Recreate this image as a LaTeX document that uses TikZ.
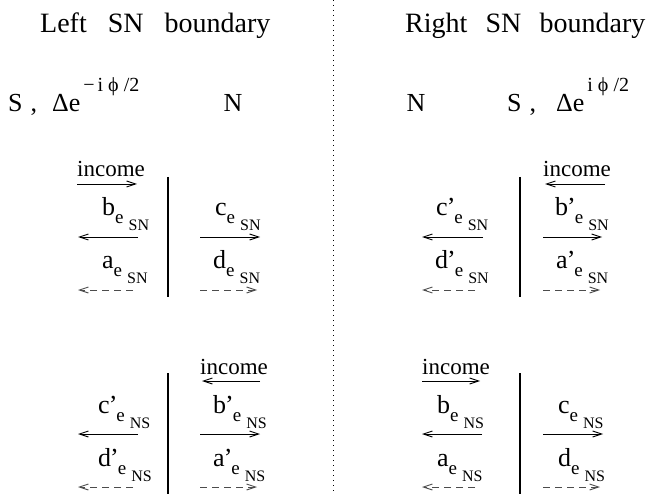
\documentclass[tikz,border=0pt]{standalone}
\usepackage{fontspec}
\setmainfont{Liberation Serif}
\usetikzlibrary{arrows.meta}

% amplitude label: letter, prime, boundary
\newcommand{\coef}[3]{{\fontsize{26pt}{26pt}\selectfont #1#2}\raisebox{-8pt}{\fontsize{19pt}{19pt}\selectfont e}\hspace{5pt}\raisebox{-15pt}{\fontsize{16pt}{16pt}\selectfont #3}}
\newcommand{\prm}{\hspace{-1pt}’\hspace{-1pt}}
\newcommand{\phase}[1]{\hspace{3pt}\raisebox{20pt}{\fontsize{20pt}{20pt}\selectfont #1}}

\tikzset{
  txt/.style={inner sep=0pt, anchor=base west},
  big/.style={inner sep=0pt, font=\fontsize{26pt}{26pt}\selectfont},
  inc/.style={txt, font=\fontsize{23pt}{23pt}\selectfont},
  flow/.style={-{Straight Barb[length=9pt,width=6pt]}, line width=0.9pt},
  back/.style={flow, black!70, dash pattern=on 7pt off 5pt},
  wall/.style={line width=1.2pt},
}

\begin{document}
\begin{tikzpicture}[x=1pt,y=-1pt]
    \useasboundingbox (0,0) rectangle (658,494);
    % middle line
    \coordinate (mtop) at (333,0);
    \coordinate (mbot) at (333,494);
    \draw[line width=0.8pt, dash pattern=on 0.8pt off 4.2pt] (mtop) -- (mbot);

    % headings
    \node[txt, font=\fontsize{28pt}{28pt}\selectfont] (ltitle) at (40,33) {Left\hspace{0.75em}SN\hspace{0.75em}boundary};
    \node[txt, font=\fontsize{28pt}{28pt}\selectfont] (rtitle) at (405,33) {Right\hspace{0.65em}SN\hspace{0.65em}boundary};
    \node[big, anchor=base west] (lS) at (8,112) {S\hspace{8pt},\hspace{15pt}Δe\phase{−\hspace{3pt}i\hspace{5pt}ϕ\hspace{5pt}/2}};
    \node[big, anchor=base] (lN) at (233,112) {N};
    \node[big, anchor=base] (rN) at (416,112) {N};
    \node[big, anchor=base west] (rS) at (507,112) {S\hspace{8pt},\hspace{20pt}Δe\phase{i\hspace{5pt}ϕ\hspace{5pt}/2}};

    % top left block
    \node[inc] (tlinc) at (77,177) {income};
    \node[txt] (tlb) at (102,216) {\coef{b}{}{SN}};
    \node[txt] (tla) at (102,269) {\coef{a}{}{SN}};
    \node[txt] (tlc) at (215,216) {\coef{c}{}{SN}};
    \node[txt] (tld) at (213,269) {\coef{d}{}{SN}};
    \coordinate (tl0) at (77,184);  \coordinate (tl1) at (137,184);
    \coordinate (tl2) at (138,237); \coordinate (tl3) at (78,237);
    \coordinate (tl4) at (133,290); \coordinate (tl5) at (78,290);
    \coordinate (tl6) at (200,237); \coordinate (tl7) at (260,237);
    \coordinate (tl8) at (200,290); \coordinate (tl9) at (257,290);
    \coordinate (tlup) at (168,177); \coordinate (tldn) at (168,297);
    \draw[flow] (tl0) -- (tl1);
    \draw[flow] (tl2) -- (tl3);
    \draw[back] (tl4) -- (tl5);
    \draw[flow] (tl6) -- (tl7);
    \draw[back] (tl8) -- (tl9);
    \draw[wall] (tlup) -- (tldn);

    % top right block
    \node[inc] (trinc) at (543,177) {income};
    \node[txt] (trc) at (436,216) {\coef{c}{\prm}{SN}};
    \node[txt] (trd) at (435,269) {\coef{d}{\prm}{SN}};
    \node[txt] (trb) at (555,216) {\coef{b}{\prm}{SN}};
    \node[txt] (tra) at (556,269) {\coef{a}{\prm}{SN}};
    \coordinate (tr0) at (605,184); \coordinate (tr1) at (545,184);
    \coordinate (tr2) at (483,237); \coordinate (tr3) at (422,237);
    \coordinate (tr4) at (475,290); \coordinate (tr5) at (422,290);
    \coordinate (tr6) at (543,237); \coordinate (tr7) at (602,237);
    \coordinate (tr8) at (543,290); \coordinate (tr9) at (600,290);
    \coordinate (trup) at (520,177); \coordinate (trdn) at (520,297);
    \draw[flow] (tr0) -- (tr1);
    \draw[flow] (tr2) -- (tr3);
    \draw[back] (tr4) -- (tr5);
    \draw[flow] (tr6) -- (tr7);
    \draw[back] (tr8) -- (tr9);
    \draw[wall] (trup) -- (trdn);

    % bottom left block
    \node[inc] (blinc) at (200,374) {income};
    \node[txt] (blc) at (98,413) {\coef{c}{\prm}{NS}};
    \node[txt] (bld) at (98,466) {\coef{d}{\prm}{NS}};
    \node[txt] (blb) at (213,413) {\coef{b}{\prm}{NS}};
    \node[txt] (bla) at (213,466) {\coef{a}{\prm}{NS}};
    \coordinate (bl0) at (260,381); \coordinate (bl1) at (202,381);
    \coordinate (bl2) at (138,434); \coordinate (bl3) at (78,434);
    \coordinate (bl4) at (133,487); \coordinate (bl5) at (78,487);
    \coordinate (bl6) at (200,434); \coordinate (bl7) at (260,434);
    \coordinate (bl8) at (200,487); \coordinate (bl9) at (257,487);
    \coordinate (blup) at (168,373); \coordinate (bldn) at (168,494);
    \draw[flow] (bl0) -- (bl1);
    \draw[flow] (bl2) -- (bl3);
    \draw[back] (bl4) -- (bl5);
    \draw[flow] (bl6) -- (bl7);
    \draw[back] (bl8) -- (bl9);
    \draw[wall] (blup) -- (bldn);

    % bottom right block
    \node[inc] (brinc) at (422,374) {income};
    \node[txt] (brb) at (437,413) {\coef{b}{}{NS}};
    \node[txt] (bra) at (437,466) {\coef{a}{}{NS}};
    \node[txt] (brc) at (558,413) {\coef{c}{}{NS}};
    \node[txt] (brd) at (558,466) {\coef{d}{}{NS}};
    \coordinate (br0) at (422,381); \coordinate (br1) at (480,381);
    \coordinate (br2) at (482,434); \coordinate (br3) at (422,434);
    \coordinate (br4) at (475,487); \coordinate (br5) at (422,487);
    \coordinate (br6) at (543,434); \coordinate (br7) at (603,434);
    \coordinate (br8) at (543,487); \coordinate (br9) at (600,487);
    \coordinate (brup) at (520,373); \coordinate (brdn) at (520,494);
    \draw[flow] (br0) -- (br1);
    \draw[flow] (br2) -- (br3);
    \draw[back] (br4) -- (br5);
    \draw[flow] (br6) -- (br7);
    \draw[back] (br8) -- (br9);
    \draw[wall] (brup) -- (brdn);
\end{tikzpicture}
\end{document}
